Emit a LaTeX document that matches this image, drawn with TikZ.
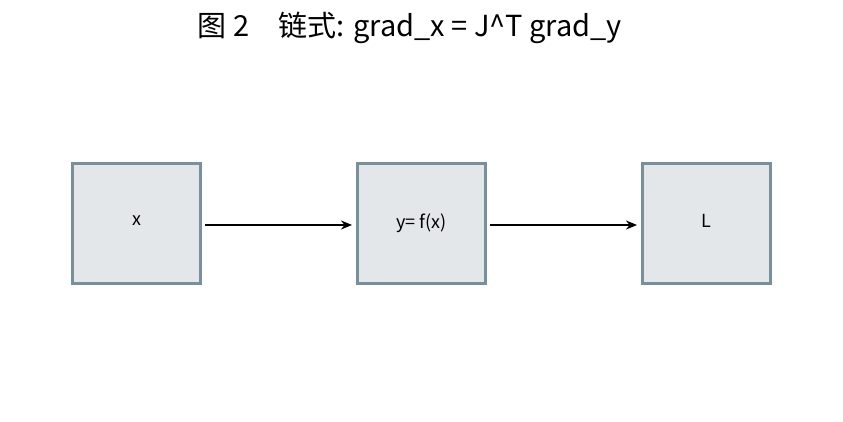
\documentclass[tikz,border=0pt]{standalone}
\usepackage{fontspec}
\setmainfont{Noto Sans CJK SC}
\usetikzlibrary{arrows.meta}
\definecolor{bd}{HTML}{7A8F9C}
\definecolor{bg}{HTML}{E4E7EA}
\begin{document}
\begin{tikzpicture}[x=1pt,y=1pt,
  box/.style={draw=bd,fill=bg,line width=3pt,minimum width=128pt,minimum height=120pt,inner sep=0pt,font=\fontsize{18}{20}\selectfont},
  arr/.style={-{Stealth[length=11pt,width=9pt]},line width=2.4pt}]
\useasboundingbox (0,0) rectangle (843,421);
\node[font=\fontsize{29}{32}\selectfont] (t) at (410,393) {图 2\quad 链式: grad\_x = J\textasciicircum T grad\_y};
\node[box] (a) at (136.5,197.5) {\raisebox{5pt}{x}};
\node[box] (b) at (421.5,197.5) {\raisebox{5pt}{y= f(x)}};
\node[box] (c) at (706.5,197.5) {\raisebox{5pt}{L}};
\draw[arr] ([yshift=-1.5pt,xshift=3pt]a.east) -- ([yshift=-1.5pt,xshift=-4pt]b.west);
\draw[arr] ([yshift=-1.5pt,xshift=3pt]b.east) -- ([yshift=-1.5pt,xshift=-4pt]c.west);
\end{tikzpicture}
\end{document}
